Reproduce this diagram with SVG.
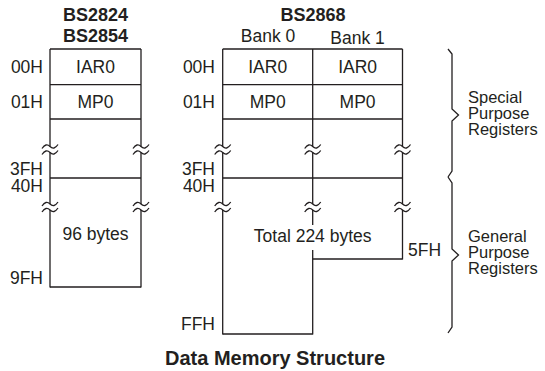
<svg xmlns="http://www.w3.org/2000/svg" width="545" height="371" viewBox="0 0 545 371">
<defs>
<style>
.ln{stroke:#231f20;stroke-width:1.3;fill:none}
.t{font-family:"Liberation Sans",Arial,Helvetica,sans-serif;font-size:17.5px;fill:#231f20}
.r{font-size:16.5px}
.b{font-family:"Liberation Sans",Arial,Helvetica,sans-serif;font-size:18px;font-weight:bold;fill:#231f20}
.m{text-anchor:middle}
.e{text-anchor:end}
</style>
<path id="tl" class="ln" d="M-8,2 Q-4,-4 0,0 T8,-2"/>
</defs>
<rect width="545" height="371" fill="#ffffff"/>

<g id="bs2824">
<text class="b m" x="95.5" y="21">BS2824</text>
<text class="b m" x="95.5" y="42">BS2854</text>
<path class="ln" d="M50,49H141M50,84.7H141M50,119H141M50,178H141M50,287H141"/>
<path class="ln" d="M50,49V146.5M50,152.5V204M50,210V287.6M141,49V146.5M141,152.5V204M141,210V287.6"/>
<use href="#tl" x="50" y="146.5"/><use href="#tl" x="50" y="152.5"/>
<use href="#tl" x="141" y="146.5"/><use href="#tl" x="141" y="152.5"/>
<use href="#tl" x="50" y="204"/><use href="#tl" x="50" y="210"/>
<use href="#tl" x="141" y="204"/><use href="#tl" x="141" y="210"/>
<text class="t e" x="43" y="73.3">00H</text>
<text class="t e" x="43" y="108">01H</text>
<text class="t e" x="43" y="174.5">3FH</text>
<text class="t e" x="43" y="192">40H</text>
<text class="t e" x="43" y="284">9FH</text>
<text class="t m" x="95.5" y="73.3">IAR0</text>
<text class="t m" x="95.5" y="108">MP0</text>
<text class="t m" x="95.5" y="240">96 bytes</text>
</g>

<g id="bs2868">
<text class="b m" x="313" y="21">BS2868</text>
<text class="t m" x="268" y="42">Bank 0</text>
<text class="t m" x="357.5" y="44">Bank 1</text>
<path class="ln" d="M222.7,49H402.5M222.7,84.7H402.5M222.7,119H402.5M222.7,178H402.5M312.7,259H402.5M222.7,334H312.7"/>
<path class="ln" d="M222.7,49V146.5M222.7,152.5V204M222.7,210V334.6M312.7,49V146.5M312.7,152.5V204M312.7,210V225M312.7,250V334.6M402.5,49V146.5M402.5,152.5V204M402.5,210V259.6"/>
<use href="#tl" x="222.7" y="146.5"/><use href="#tl" x="222.7" y="152.5"/>
<use href="#tl" x="312.7" y="146.5"/><use href="#tl" x="312.7" y="152.5"/>
<use href="#tl" x="402.5" y="146.5"/><use href="#tl" x="402.5" y="152.5"/>
<use href="#tl" x="222.7" y="204"/><use href="#tl" x="222.7" y="210"/>
<use href="#tl" x="312.7" y="204"/><use href="#tl" x="312.7" y="210"/>
<use href="#tl" x="402.5" y="204"/><use href="#tl" x="402.5" y="210"/>
<text class="t e" x="215" y="73.3">00H</text>
<text class="t e" x="215" y="108">01H</text>
<text class="t e" x="215" y="174.5">3FH</text>
<text class="t e" x="215" y="192">40H</text>
<text class="t e" x="215" y="330">FFH</text>
<text class="t m" x="267.7" y="73.3">IAR0</text>
<text class="t m" x="357.6" y="73.3">IAR0</text>
<text class="t m" x="267.7" y="108">MP0</text>
<text class="t m" x="357.6" y="108">MP0</text>
<text class="t m" x="312.7" y="242">Total 224 bytes</text>
<text class="t" x="408" y="256">5FH</text>
</g>

<g id="special">
<path class="ln" d="M448,49L452,54V109L458.5,115L452,121V171L448,177"/>
<text class="t r" x="468" y="102.5">Special</text>
<text class="t r" x="468" y="118.5">Purpose</text>
<text class="t r" x="468" y="134.5">Registers</text>
</g>

<g id="general">
<path class="ln" d="M448,177L452,183V249L458.5,255L452,261V327L448,333"/>
<text class="t r" x="468" y="241.5">General</text>
<text class="t r" x="468" y="257.5">Purpose</text>
<text class="t r" x="468" y="273.5">Registers</text>
</g>

<g id="connectors"></g>

<text class="b m" x="275" y="365" style="font-size:20px">Data Memory Structure</text>
</svg>
